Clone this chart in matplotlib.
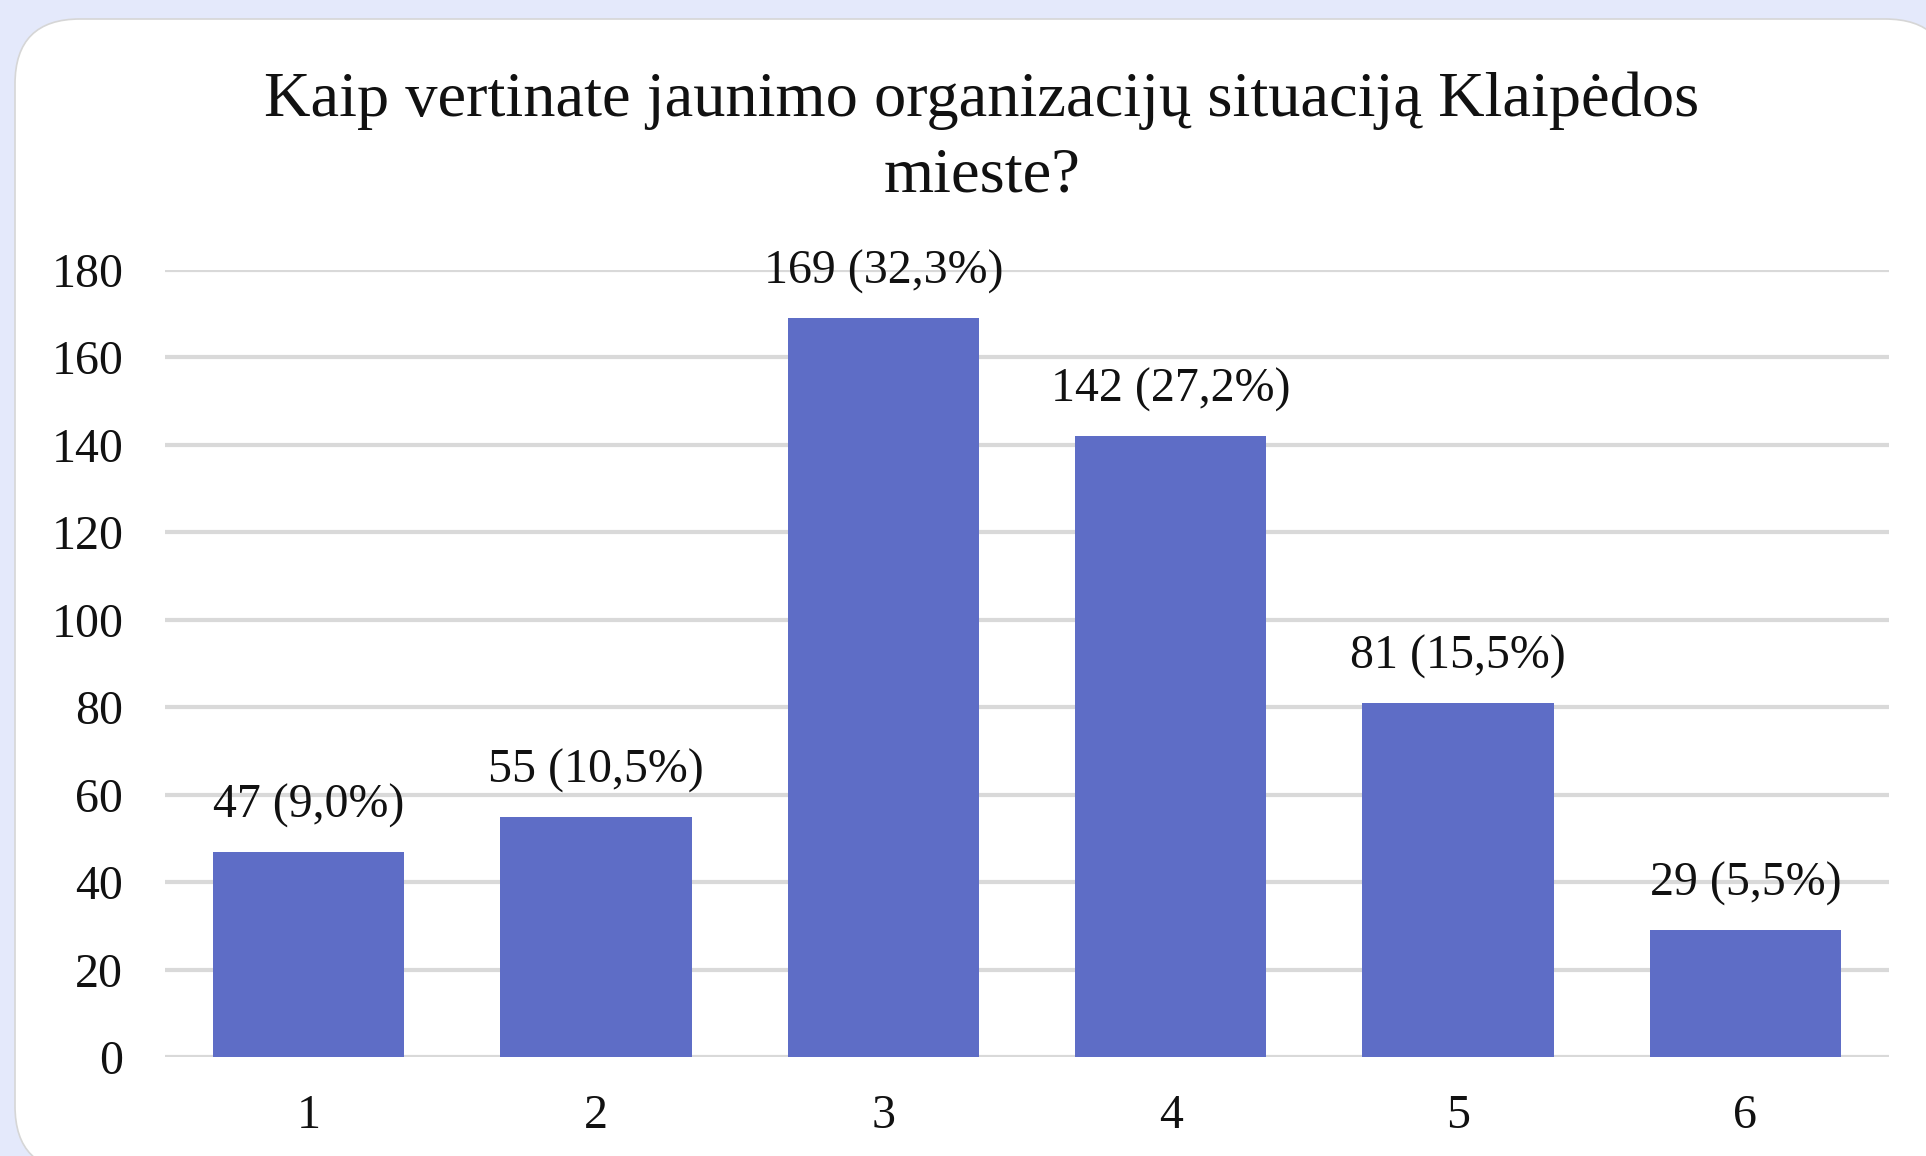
import matplotlib
matplotlib.use("Agg")
import matplotlib.pyplot as plt
from matplotlib.patches import FancyBboxPatch

# --- data ---
categories = ["1", "2", "3", "4", "5", "6"]
counts = [47, 55, 169, 142, 81, 29]
shares = ["9,0%", "10,5%", "32,3%", "27,2%", "15,5%", "5,5%"]
y_ticks = [0, 20, 40, 60, 80, 100, 120, 140, 160, 180]
title = "Kaip vertinate jaunimo organizacijų situaciją Klaipėdos\nmieste?"

BAR_COLOR = "#5e6dc6"
GRID_COLOR = "#d9d9d9"
BG_COLOR = "#e4e9fb"

plt.rcParams["font.family"] = ["Liberation Serif", "DejaVu Serif"]

W, H = 1926, 1156
fig = plt.figure(figsize=(W / 100, H / 100), dpi=100)
fig.patch.set_facecolor(BG_COLOR)

# white rounded card (inches), runs off the right and bottom edges
card = FancyBboxPatch((0.15, -0.15), 19.35, (H - 19) / 100 + 0.15,
                      boxstyle="round,pad=0,rounding_size=0.65",
                      transform=fig.dpi_scale_trans, facecolor="white",
                      edgecolor="#d6d6d6", linewidth=1.2, zorder=-5)
fig.add_artist(card)

fig.text(982 / W, 1 - 72 / H, title, ha="center", va="top",
         fontsize=46.4, color="#111111", linespacing=1.39)

ax = fig.add_axes([165 / W, 1 - 1057 / H, (1889 - 165) / W, (1057 - 270) / H])
ax.set_facecolor("none")
ax.set_zorder(2)

x = list(range(1, len(categories) + 1))
bars = ax.bar(x, counts, width=0.665, color=BAR_COLOR, zorder=3)

for xi, c, s in zip(x, counts, shares):
    ax.annotate(f"{c} ({s})", xy=(xi, c), xytext=(0, 46),
                textcoords="offset pixels", ha="center", va="center",
                fontsize=34.5, color="#111111", zorder=4)

ax.set_xlim(0.5, 6.5)
ax.set_ylim(0, 180)
ax.set_yticks(y_ticks)
ax.set_xticks(x)
ax.set_xticklabels(categories)
ax.yaxis.grid(True, color=GRID_COLOR, linewidth=3, zorder=0)
ax.tick_params(axis="both", length=0, labelsize=34.5, labelcolor="#111111")
ax.tick_params(axis="y", pad=30)
ax.tick_params(axis="x", pad=27)
for sp in ax.spines.values():
    sp.set_visible(False)

fig.savefig("out.png", dpi=100, facecolor=BG_COLOR)
